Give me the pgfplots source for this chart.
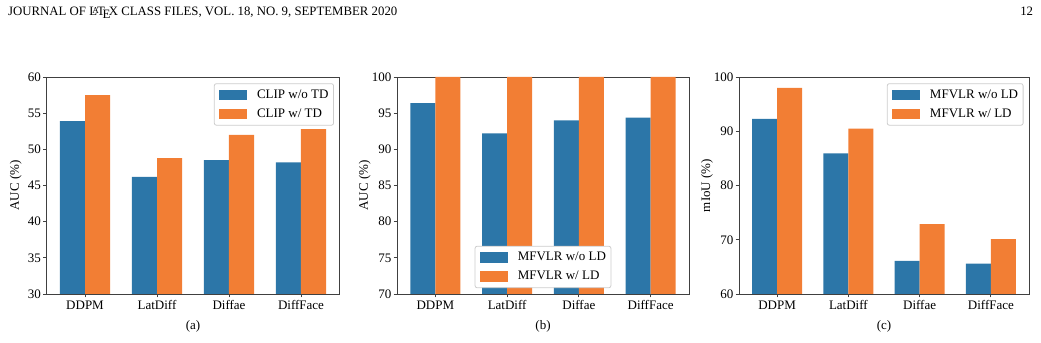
\documentclass[border=0pt]{standalone}
\usepackage{fontspec}
\setmainfont{Liberation Serif}
\usepackage{pgfplots}
\pgfplotsset{compat=1.18}
\definecolor{cblue}{RGB}{44,118,168}
\definecolor{corange}{RGB}{242,126,52}
\newcommand\fsz{\fontsize{13bp}{15bp}\selectfont}
\pgfplotsset{
  barpanel/.style={
    scale only axis, anchor=south west, height=217bp,
    ybar=0pt, bar width=0.35,
    xmin=-0.535, xmax=3.535,
    xtick={0,1,2,3}, xticklabels={DDPM,LatDiff,Diffae,DiffFace},
    tick pos=left, tick align=outside, major tick length=3.5bp,
    axis line style={draw=black!75, line width=0.8bp},
    major tick style={draw=black!75, line width=0.8bp},
    tick label style={font=\fsz, inner sep=0bp},
    xticklabel shift=3bp, yticklabel shift=2bp,
    label style={font=\fsz, inner sep=0bp},
    /pgf/number format/assume math mode=true,
    legend cell align=left,
    legend style={draw=black!20, line width=0.8bp, rounded corners=2bp, fill=white,
      font=\fsz, inner xsep=5bp, inner ysep=5bp, column sep=10bp, row sep=6.5bp,
      cells={anchor=west}, nodes={inner sep=0bp, text height=9.5bp, text depth=3bp}},
  },
  lgd/.style={legend image code/.code={\fill[##1, sharp corners] (0bp,-5.3bp) rectangle (27.7bp,5.3bp);}},
}
\begin{document}
\begin{tikzpicture}
\useasboundingbox (0bp,0bp) rectangle (1041bp,343bp);
\node[font=\fontsize{12.8bp}{15bp}\selectfont, anchor=base west, inner sep=0pt] at (8bp,327.5bp) {JOURNAL OF \mbox{\LaTeX} CLASS FILES, VOL. 18, NO. 9, SEPTEMBER 2020};
\node[font=\fontsize{12.8bp}{15bp}\selectfont, anchor=base east, inner sep=0pt] at (1033.3bp,327.5bp) {12};

% (a)
\begin{axis}[barpanel, at={(46.5bp,49bp)}, width=293bp,
  ymin=30, ymax=60, ytick={30,35,...,60},
  ylabel={AUC (\%)}, ylabel style={at={(axis description cs:-0.0939,0.5)}, anchor=base},
  legend style={at={(0.981,0.971)}, anchor=north east}]
\addplot[fill=cblue, draw=none, lgd] coordinates {(0,53.9) (1,46.2) (2,48.5) (3,48.2)};
\addplot[fill=corange, draw=none, lgd] coordinates {(0,57.5) (1,48.8) (2,52.0) (3,52.8)};
\legend{CLIP w/o TD, CLIP w/ TD}
\end{axis}

% (b)
\begin{axis}[barpanel, at={(397bp,49bp)}, width=292bp,
  ymin=70, ymax=100, ytick={70,75,...,100},
  ylabel={AUC (\%)}, ylabel style={at={(axis description cs:-0.1,0.5)}, anchor=base},
  legend style={at={(0.5,0.027)}, anchor=south}]
\addplot[fill=cblue, draw=none, lgd] coordinates {(0,96.4) (1,92.2) (2,94.0) (3,94.4)};
\addplot[fill=corange, draw=none, lgd] coordinates {(0,100) (1,100) (2,100) (3,100)};
\legend{MFVLR w/o LD, MFVLR w/ LD}
\end{axis}

% (c)
\begin{axis}[barpanel, at={(739bp,49bp)}, width=290bp,
  ymin=60, ymax=100, ytick={60,70,...,100},
  ylabel={mIoU (\%)}, ylabel style={at={(axis description cs:-0.1,0.5)}, anchor=base},
  legend style={at={(0.981,0.971)}, anchor=north east}]
\addplot[fill=cblue, draw=none, lgd] coordinates {(0,92.3) (1,85.9) (2,66.1) (3,65.6)};
\addplot[fill=corange, draw=none, lgd] coordinates {(0,98.0) (1,90.5) (2,72.9) (3,70.1)};
\legend{MFVLR w/o LD, MFVLR w/ LD}
\end{axis}

\node[font=\fsz, anchor=base] at (193bp,14bp) {(a)};
\node[font=\fsz, anchor=base] at (543bp,14bp) {(b)};
\node[font=\fsz, anchor=base] at (884bp,14bp) {(c)};
\end{tikzpicture}
\end{document}
